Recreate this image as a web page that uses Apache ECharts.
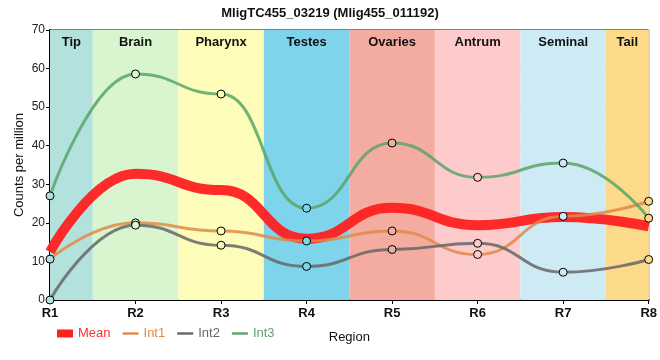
<!DOCTYPE html>
<html><head><meta charset="utf-8">
<script src="https://cdn.jsdelivr.net/npm/echarts@6/dist/echarts.min.js"></script>
<style>html,body{margin:0;padding:0;background:#fff}#c{width:660px;height:360px}</style>
</head><body><div id="c"></div>
<script>
var titleText = 'MligTC455_03219 (Mlig455_011192)';
var categories = ['R1','R2','R3','R4','R5','R6','R7','R8'];
var regions = ['Tip','Brain','Pharynx','Testes','Ovaries','Antrum','Seminal','Tail'];
var regionColors = ['#b3e2de','#d8f5d0','#fdfdb9','#7ed4eb','#f4aca0','#fdcbcb','#ceebf5','#fdd98a'];
var meanVals = [12.5, 32.7, 28.5, 15.9, 23.9, 19.4, 21.5, 19.1];
var int1Vals = [10.6, 20.0, 17.9, 15.3, 17.9, 11.8, 21.7, 25.6];
var int2Vals = [0.0, 19.4, 14.2, 8.7, 13.1, 14.7, 7.2, 10.5];
var int3Vals = [27.0, 58.6, 53.4, 23.8, 40.7, 31.8, 35.5, 21.2];
var yTicks = [0,10,20,30,40,50,60,70];

var font = '"Liberation Sans", Arial, sans-serif';
var chart = echarts.init(document.getElementById('c'), null, {renderer:'canvas'});
var last = categories.length - 1;
function pts(arr, withFill){
  return arr.map(function(v,i){
    var d = {value:[i, v]};
    if (withFill) d.itemStyle = {color: regionColors[i]};
    return d;
  });
}
var bands = regions.map(function(r,i){
  return [{name: r, xAxis: Math.max(0, i-0.5), itemStyle:{color: regionColors[i], opacity:1}},
          {xAxis: Math.min(last, i+0.5)}];
});
function lineSeries(name, vals, color, width, showSym, opacity){
  return {
    name: name, type:'line', data: pts(vals, showSym), smooth: true, smoothMonotone:'x',
    symbol: showSym ? 'circle' : 'none', symbolSize: 8, showSymbol: showSym,
    lineStyle:{color: color, width: width, opacity: opacity},
    itemStyle: showSym ? {borderColor:'#000', borderWidth:1} : {color: color},
    emphasis:{disabled:true}, z: 3
  };
}
var legendLine = 'path://M0,0H20V3H0Z';
var option = {
  animation:false,
  textStyle:{fontFamily: font},
  title:{text: titleText, left:'center', top:2, textStyle:{fontSize:13, fontWeight:'bold', color:'#111', fontFamily: font}},
  grid:{left:50, right:10, top:30, bottom:60, show:true, borderColor:'#000', borderWidth:1},
  legend:{
    left:52, top:322, itemWidth:16, itemHeight:8, itemGap:12,
    textStyle:{fontSize:13, fontFamily: font},
    data:[
      {name:'Mean', icon:'rect', itemStyle:{color:'#ff2020', borderWidth:0}, textStyle:{color:'#ff3030'}},
      {name:'Int1', icon:legendLine, itemStyle:{color:'#e08a48', borderWidth:0}, textStyle:{color:'#e08a48'}},
      {name:'Int2', icon:legendLine, itemStyle:{color:'#666666', borderWidth:0}, textStyle:{color:'#666666'}},
      {name:'Int3', icon:legendLine, itemStyle:{color:'#5aa469', borderWidth:0}, textStyle:{color:'#5aa469'}}
    ]
  },
  xAxis:{
    type:'value', min:0, max:last, interval:1,
    name:'Region', nameLocation:'middle', nameGap:31, nameMoveOverlap:false,
    nameTextStyle:{fontSize:13, color:'#111', fontFamily: font},
    axisLine:{show:true, lineStyle:{color:'#000', width:2}},
    axisTick:{show:true, length:4, lineStyle:{color:'#000'}},
    axisLabel:{fontSize:13, fontWeight:'bold', color:'#111', margin:7, formatter:function(v){ return categories[v] || ''; }},
    splitLine:{show:true, lineStyle:{color:'#cccccc', width:1}}
  },
  yAxis:{
    type:'value', min: yTicks[0], max: yTicks[yTicks.length-1], interval: yTicks[1]-yTicks[0],
    name:'Counts per million', nameLocation:'middle', nameGap:24, nameMoveOverlap:false,
    nameTextStyle:{fontSize:13, color:'#111', fontFamily: font},
    axisLine:{show:true, lineStyle:{color:'#000', width:2}},
    axisTick:{show:true, length:4, lineStyle:{color:'#000'}},
    axisLabel:{fontSize:12, color:'#222', margin:5},
    splitLine:{show:true, lineStyle:{color:'#cccccc', width:1}}
  },
  series:[
    {name:'bands', type:'line', data:[], z:-1, silent:true,
     markArea:{silent:true, label:{show:true, position:'insideTop', distance:6, fontSize:13, fontWeight:'bold', color:'#111', fontFamily: font},
       data: bands}},
    lineSeries('Mean', meanVals, '#ff2020', 10, false, 0.95),
    lineSeries('Int1', int1Vals, '#e08a48', 3, true, 0.85),
    lineSeries('Int2', int2Vals, '#666666', 3, true, 0.85),
    lineSeries('Int3', int3Vals, '#5aa469', 3, true, 0.85)
  ]
};
chart.setOption(option);
</script></body></html>
